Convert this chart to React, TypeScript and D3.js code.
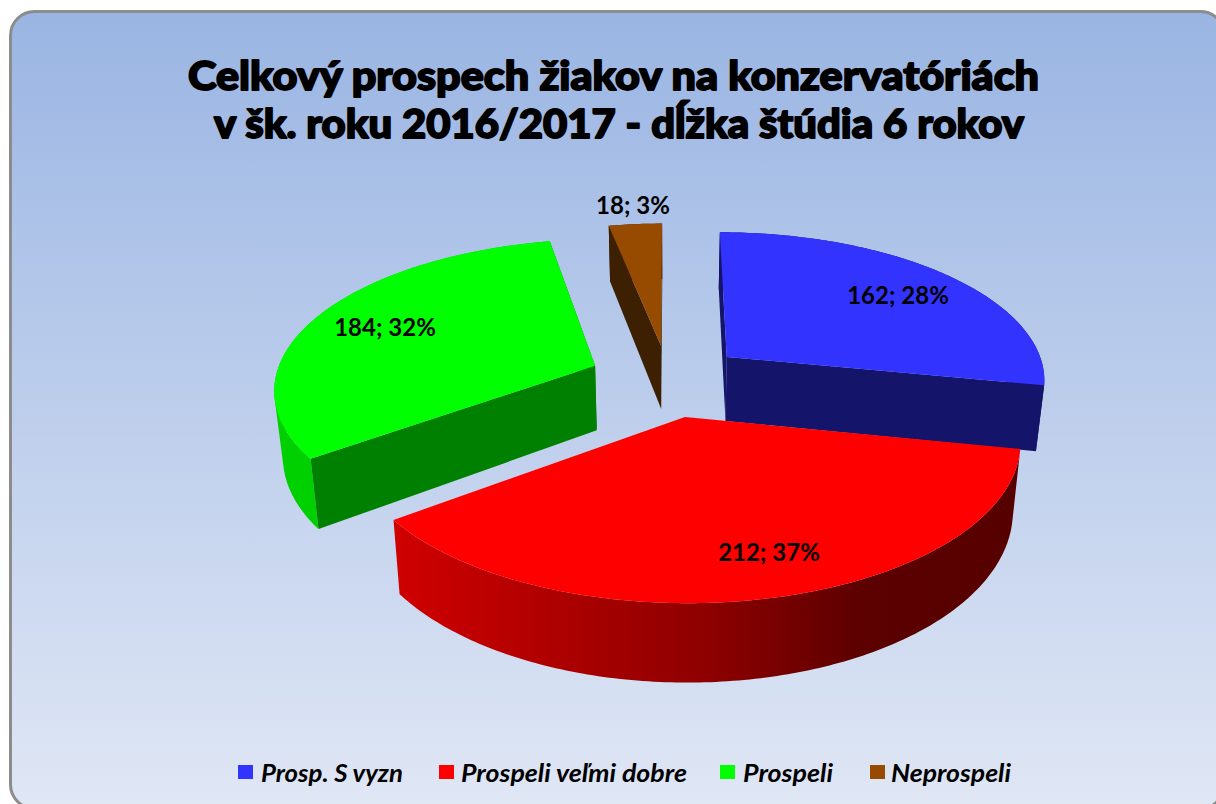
import React from "react";
import * as d3 from "d3";

const categories = ["Prosp. S vyzn", "Prospeli veľmi dobre", "Prospeli", "Neprospeli"];
const values = [162, 212, 184, 18];
const percents = [28, 37, 32, 3];
const colors = ["#3333ff", "#ff0000", "#00ff00", "#964b00"];
const cutColors = ["#14146b", "#8b0000", "#008000", "#3d1f02"];
const wallColors = ["#14146b", "url(#redWall)", "#00d000", "#3d1f02"];
const showCut = [true, false, true, true];
const explodeU = [0.181, 0.045, -0.237, -0.029];
const explodeV = [-0.105, 0.296, -0.043, -0.185];
const labelX = [898, 769, 385, 633];
const labelY = [294, 551, 326, 204];
const drawOrder = [3, 2, 0, 1];
const legendSwatchX = [238, 439, 720, 870];
const legendTextX = [261, 461, 743, 891];
const legendTextLen = [142, 226, 90, 120];
const titleLines = ["Celkový prospech žiakov na konzervatóriách", "v šk. roku 2016/2017 - dĺžka štúdia 6 rokov"];

const CX = 670, CY = 372, RX = 318, RY = 146, K = 0.14, D = 65, SHRINK = 0.022;

const top = (u: number, v: number): [number, number] => {
  const w = 1 - K * v;
  return [CX + (RX * u) / w, CY + (RY * v) / w];
};
const bottom = (u: number, v: number): [number, number] => {
  const w = 1 - K * v;
  const [x, y] = top(u, v);
  return [CX + (x - CX) * (1 - SHRINK), y + D / w];
};

const line = d3.line<[number, number]>();
const arcs = d3.pie<number>().sort(null)(values);

function rim(i: number, f: (u: number, v: number) => [number, number]) {
  const a = arcs[i];
  const n = Math.max(4, Math.ceil((a.endAngle - a.startAngle) / 0.015));
  return d3.range(n + 1).map((j) => {
    const t = a.startAngle + ((a.endAngle - a.startAngle) * j) / n;
    return f(explodeU[i] + Math.sin(t), explodeV[i] - Math.cos(t));
  });
}

// The outer wall is the sweep of the rim downwards: one quad per rim step, all wound alike.
function wallPath(t: [number, number][], b: [number, number][]) {
  return d3
    .range(t.length - 1)
    .map((j) => {
      const q: [number, number][] = [t[j], t[j + 1], b[j + 1], b[j]];
      if (d3.polygonArea(q) < 0) q.reverse();
      return line(q) + "Z";
    })
    .join("");
}

function Slice({ i }: { i: number }) {
  const u0 = explodeU[i], v0 = explodeV[i];
  const topRim = rim(i, top);
  const botRim = rim(i, bottom);
  const apexT = top(u0, v0);
  const apexB = bottom(u0, v0);
  const startFace = line([apexT, topRim[0], botRim[0], apexB]) + "Z";
  const endFace = line([apexT, topRim[topRim.length - 1], botRim[botRim.length - 1], apexB]) + "Z";
  const topFace = line([apexT, ...topRim]) + "Z";
  return (
    <g>
      {showCut[i] && <path d={endFace} fill={cutColors[i]} />}
      <path d={wallPath(topRim, botRim)} fill={wallColors[i]} />
      {showCut[i] && <path d={startFace} fill={cutColors[i]} />}
      <path d={topFace} fill={colors[i]} />
    </g>
  );
}

export default function App() {
  return (
    <svg width={1216} height={804} style={{ position: "absolute", left: 0, top: 0, display: "block" }}>
      <defs>
        <linearGradient id="bg" x1="0" y1="0" x2="0" y2="1">
          <stop offset="0" stopColor="#9ab5e3" />
          <stop offset="1" stopColor="#e0e7f5" />
        </linearGradient>
        <linearGradient id="redWall" gradientUnits="userSpaceOnUse" x1="393" y1="0" x2="1020" y2="0">
          <stop offset="0" stopColor="#d00000" />
          <stop offset="0.5" stopColor="#8e0000" />
          <stop offset="0.75" stopColor="#5c0000" />
          <stop offset="1" stopColor="#560000" />
        </linearGradient>
      </defs>
      <rect x={0} y={0} width={1216} height={804} fill="#ffffff" />
      <rect x={10.5} y={11.5} width={1214} height={797} rx={24} fill="url(#bg)" stroke="#8c8c8c" strokeWidth={3} />
      <g fontFamily="Lato, 'Open Sans', sans-serif" fontWeight={900} fontSize={40} fill="#000" stroke="#000" strokeWidth={1.8} strokeLinejoin="round">
        <text x={188} y={90} textLength={851} lengthAdjust="spacingAndGlyphs">{titleLines[0]}</text>
        <text x={214} y={138} textLength={810} lengthAdjust="spacingAndGlyphs">{titleLines[1]}</text>
      </g>
      {drawOrder.map((i) => <Slice key={i} i={i} />)}
      <g fontFamily="Lato, sans-serif" fontWeight={700} fontSize={24} fill="#000" textAnchor="middle" dominantBaseline="central">
        {values.map((v, i) => (
          <text key={i} x={labelX[i]} y={labelY[i]}>{`${v}; ${percents[i]}%`}</text>
        ))}
      </g>
      <g fontFamily="Lato, sans-serif" fontWeight={700} fontStyle="italic" fontSize={25} fill="#000">
        {categories.map((c, i) => (
          <g key={c}>
            <rect x={legendSwatchX[i]} y={765} width={15} height={14} fill={colors[i]} />
            <text x={legendTextX[i]} y={772} dominantBaseline="central" textLength={legendTextLen[i]} lengthAdjust="spacingAndGlyphs">{c}</text>
          </g>
        ))}
      </g>
    </svg>
  );
}
